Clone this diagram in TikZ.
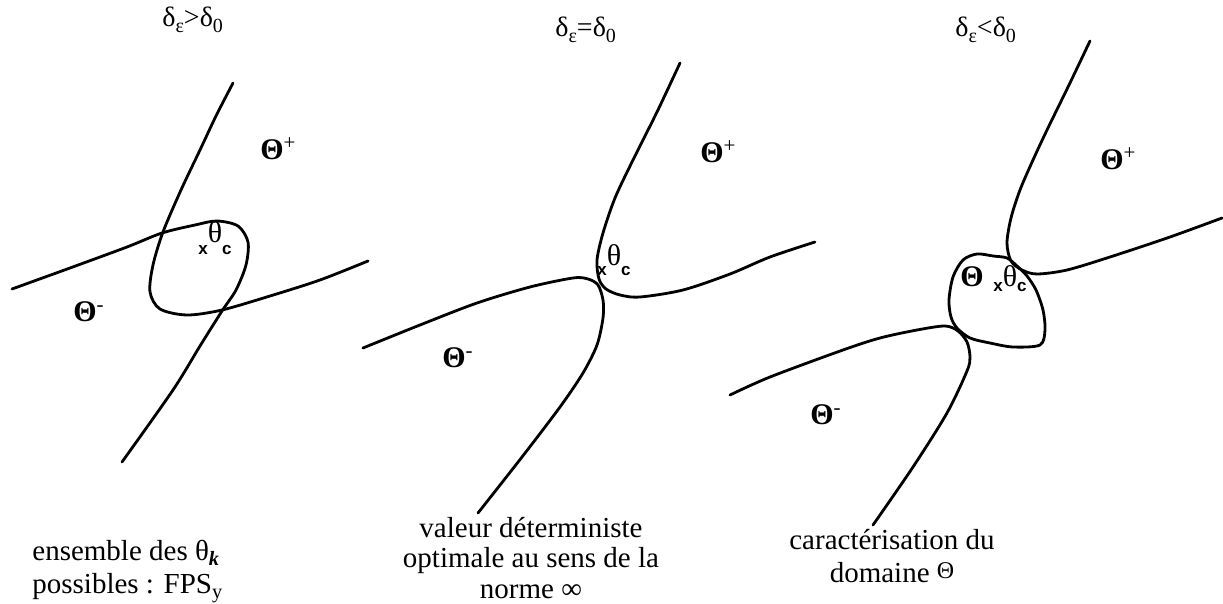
\documentclass[tikz,border=0pt]{standalone}
\usepackage{fontspec}
\setmainfont{Liberation Serif}
\setsansfont{Liberation Sans}
\newcommand{\thlab}[1]{\textbf{Θ}\textsuperscript{#1}}
\newcommand{\smallsf}[1]{{\sffamily\bfseries\fontsize{8.5}{9}\selectfont #1}}
\newcommand{\xthc}[1]{\smallsf{x}\raisebox{#1}{θ}\smallsf{c}}
\newcommand{\tsub}[1]{\raisebox{-3pt}{\fontsize{10}{10}\selectfont #1}}
\begin{document}
\begin{tikzpicture}[x=0.5pt,y=-0.5pt,
	curve/.style={line width=1.4pt,line join=round,line cap=round},
	lab/.style={inner sep=0pt,anchor=base west,font=\fontsize{15}{16}\selectfont},
	tit/.style={inner sep=0pt,anchor=base west,font=\fontsize{14}{16}\selectfont},
	txt/.style={inner sep=0pt,font=\fontsize{14.5}{16.5}\selectfont}]
	\useasboundingbox (0,0) rectangle (1223,604);
	\node[tit] (t1) at (162,27) {δ\tsub{ε}>δ\tsub{0}};
	\node[tit] (t2) at (555,37) {δ\tsub{ε}=δ\tsub{0}};
	\node[tit] (t3) at (955,37) {δ\tsub{ε}<δ\tsub{0}};
	\draw[curve] plot[smooth,tension=0.5] coordinates {(233,83) (216,116) (200,150) (181,190) (163,232) (153,265) (150,292) (160,309) (187,315) (222,310) (270,296) (320,280) (368,261)};
	\draw[curve] plot[smooth,tension=0.5] coordinates {(12,289) (70,268) (127,247) (162,233) (195,225) (217,221) (238,226) (248,242) (246,265) (236,290) (222,311) (200,346) (173,390) (122,462)};
	\draw[curve] plot[smooth,tension=0.5] coordinates {(680,63) (657,112) (633,160) (615,198) (603,233) (597,260) (599,279) (606,289) (620,295) (640,297) (683,290) (730,274) (770,257) (815,242)};
	\draw[curve] plot[smooth,tension=0.5] coordinates {(363,348) (420,325) (477,303) (530,287) (573,278) (588,279) (598,285) (603,300) (603,318) (597,345) (583,373) (560,407) (522,457) (478,513)};
	\draw[curve] plot[smooth,tension=0.5] coordinates {(1090,41) (1069,85) (1047,130) (1033,160) (1020,190) (1011,218) (1007,243) (1011,261) (1022,270) (1037,274) (1067,270) (1110,257) (1170,237) (1222,218)};
	\draw[curve] plot[smooth cycle,tension=0.5] coordinates {(1007,258) (993,256) (977,254) (963,260) (953,277) (949,300) (951,317) (957,328) (970,338) (990,343) (1013,347) (1040,345) (1045,330) (1043,310) (1036,290) (1027,276) (1017,266)};
	\draw[curve] plot[smooth,tension=0.5] coordinates {(730,395) (770,377) (843,350) (880,338) (917,330) (945,326) (958,331) (967,342) (970,357) (967,371) (947,413) (913,467) (873,525)};
	\node[lab] (p1) at (260,160) {\thlab{+}};
	\node[lab] (m1) at (73,322) {\thlab{-}};
	\node[lab] (p2) at (700,163) {\thlab{+}};
	\node[lab] (m2) at (442,368) {\thlab{-}};
	\node[lab] (p3) at (1100,170) {\thlab{+}};
	\node[lab] (m3) at (810,425) {\thlab{-}};
	\node[lab] (in3) at (960,287) {\textbf{Θ}};
	\node[lab] (c1) at (198,255) {\xthc{6pt}};
	\node[lab] (c2) at (597,276) {\xthc{5pt}};
	\node[lab] (c3) at (993,292) {\xthc{2.5pt}};
	\node[txt,anchor=base west,align=left] (d1) at (32,594) {ensemble des θ\textsubscript{\textbf{\textit{k}}}\\possibles : FPS\textsubscript{y}};
	\node[txt,anchor=base,align=center,font=\fontsize{14.5}{15.5}\selectfont] (d2) at (531,599) {valeur déterministe\\optimale au sens de la\\norme ∞};
	\node[txt,anchor=base,align=center,font=\fontsize{14.5}{17}\selectfont] (d3) at (892,583) {caractérisation du\\domaine {\fontsize{12}{12}\selectfont\raisebox{2pt}{Θ}}};
\end{tikzpicture}
\end{document}
